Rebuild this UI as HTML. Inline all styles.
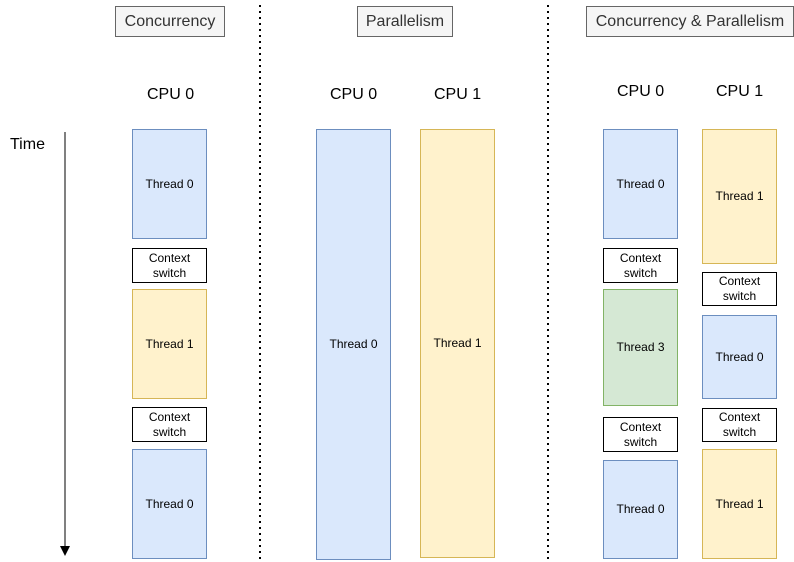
<!DOCTYPE html>
<html><head><meta charset="utf-8"><style>
body{margin:0;width:794px;height:562px;background:#fff;position:relative;overflow:hidden;font-family:"Liberation Sans",Helvetica,sans-serif;}
.b{position:absolute;box-sizing:border-box;display:flex;align-items:center;justify-content:center;text-align:center;font-size:12px;color:#000;line-height:15px;}
.blue{background:#dae8fc;border:1px solid #6c8ebf;}
.yel{background:#fff2cc;border:1px solid #d6b656;}
.grn{background:#d5e8d4;border:1px solid #82b366;}
.cs{background:#fff;border:1px solid #000;}
.hdr{background:#f5f5f5;border:1px solid #666;font-size:16px;color:#333;}
.t{position:absolute;font-size:16px;color:#000;white-space:nowrap;}
</style></head><body>
<div class="b hdr" style="left:115px;top:6px;width:110px;height:31px">Concurrency</div>
<div class="b hdr" style="left:357px;top:6px;width:96px;height:31px">Parallelism</div>
<div class="b hdr" style="left:586px;top:6px;width:208px;height:31px">Concurrency &amp; Parallelism</div>
<div class="t" style="left:147px;top:86px">CPU 0</div>
<div class="t" style="left:330px;top:86px">CPU 0</div>
<div class="t" style="left:434px;top:86px">CPU 1</div>
<div class="t" style="left:617px;top:83px">CPU 0</div>
<div class="t" style="left:716px;top:83px">CPU 1</div>
<div class="t" style="left:10px;top:136px">Time</div>
<svg style="position:absolute;left:0;top:0" width="794" height="562">
<line x1="65" y1="132" x2="65" y2="548" stroke="#000" stroke-width="1"/>
<polygon points="60,546 70,546 65,556" fill="#000"/>
<line x1="260" y1="5" x2="260" y2="562" stroke="#000" stroke-width="2" stroke-dasharray="2,4"/>
<line x1="548" y1="5" x2="548" y2="562" stroke="#000" stroke-width="2" stroke-dasharray="2,4"/>
</svg>
<div class="b blue" style="left:132px;top:129px;width:75px;height:110px">Thread 0</div>
<div class="b cs" style="left:132px;top:248px;width:75px;height:35px">Context<br>switch</div>
<div class="b yel" style="left:132px;top:289px;width:75px;height:110px">Thread 1</div>
<div class="b cs" style="left:132px;top:407px;width:75px;height:35px">Context<br>switch</div>
<div class="b blue" style="left:132px;top:449px;width:75px;height:110px">Thread 0</div>
<div class="b blue" style="left:316px;top:129px;width:75px;height:431px">Thread 0</div>
<div class="b yel" style="left:420px;top:129px;width:75px;height:429px">Thread 1</div>
<div class="b blue" style="left:603px;top:129px;width:75px;height:110px">Thread 0</div>
<div class="b cs" style="left:603px;top:248px;width:75px;height:35px">Context<br>switch</div>
<div class="b grn" style="left:603px;top:289px;width:75px;height:117px">Thread 3</div>
<div class="b cs" style="left:603px;top:417px;width:75px;height:35px">Context<br>switch</div>
<div class="b blue" style="left:603px;top:460px;width:75px;height:99px">Thread 0</div>
<div class="b yel" style="left:702px;top:129px;width:75px;height:135px">Thread 1</div>
<div class="b cs" style="left:702px;top:272px;width:75px;height:34px">Context<br>switch</div>
<div class="b blue" style="left:702px;top:315px;width:75px;height:84px">Thread 0</div>
<div class="b cs" style="left:702px;top:408px;width:75px;height:34px">Context<br>switch</div>
<div class="b yel" style="left:702px;top:449px;width:75px;height:110px">Thread 1</div>
</body></html>
